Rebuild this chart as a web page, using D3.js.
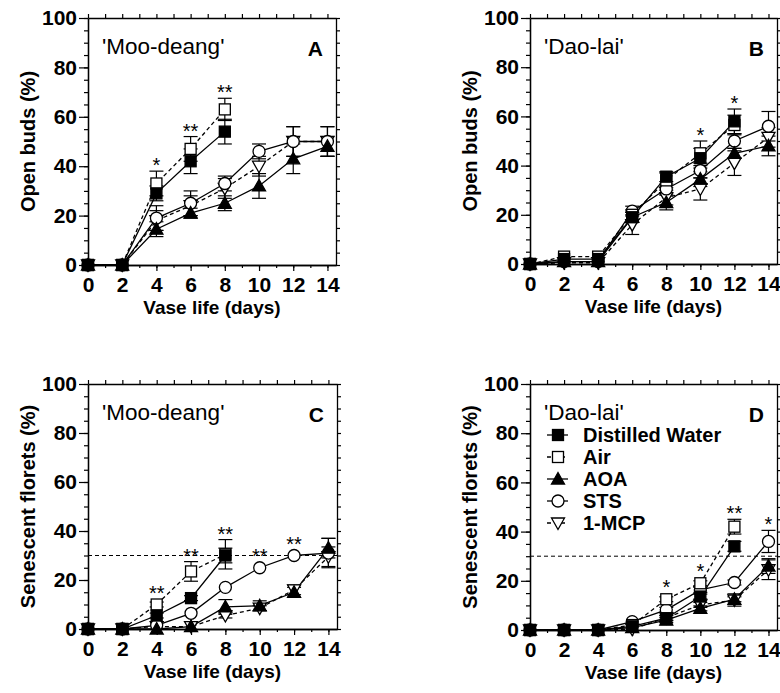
<!DOCTYPE html>
<html>
<head>
<meta charset="utf-8">
<script src="https://cdn.jsdelivr.net/npm/d3@7"></script>
<style>
  body { margin: 0; background: #fff; }
  svg { display: block; }
  text { font-family: "Liberation Sans", Arial, sans-serif; fill: #000; }
</style>
</head>
<body>
<svg id="chart" width="780" height="693"></svg>
<script>
// vase life days (x axis)
const days = [0, 2, 4, 6, 8, 10, 12, 14];
const xTicks = [0, 2, 4, 6, 8, 10, 12, 14];
const yTicks = [0, 20, 40, 60, 80, 100];
const treatments = ["Distilled Water", "Air", "AOA", "STS", "1-MCP"];

// panel A - open buds, 'Moo-deang'
const dwA  = [0, 0, 29, 42, 54, null, null, null];
const airA = [0, 0, 33, 47, 63, null, null, null];
const aoaA = [0, 0, 14.5, 21, 25, 32, 43, 48];
const stsA = [0, 0, 19, 25, 33, 46, 50, 50];
const mcpA = [0, 0, 18, 24, 31, 40, 50, 50];
const dwAErr  = [0, 0, 3, 5, 5, null, null, null];
const airAErr = [0, 0, 5, 5, 4.5, null, null, null];
const aoaAErr = [0, 0, 3, 2, 3, 5, 6, 4];
const stsAErr = [0, 0, 5, 5, 3, 3, 6, 6];
const mcpAErr = [0, 0, 4, 4, 4, 4, 6, 6];
const sigA = [[4, "*"], [6, "**"], [8, "**"]];

// panel B - open buds, 'Dao-lai'
const dwB  = [0, 2, 2, 19, 35.5, 43, 58, null];
const airB = [0, 3, 3, 20, 34, 45, 56.5, null];
const aoaB = [0, 1, 1, 19, 25, 34.5, 45, 48];
const stsB = [0, 1, 1, 21.5, 30.5, 38, 50, 56];
const mcpB = [0, 0.5, 0.5, 16, 27, 30.5, 41, 51.5];
const dwBErr  = [0, 0, 0, 2, 2, 4, 5, null];
const airBErr = [0, 0, 0, 2, 3, 5, 4, null];
const aoaBErr = [0, 0, 0, 2, 3, 3, 2, 4];
const stsBErr = [0, 0, 0, 2, 2, 3, 3, 6];
const mcpBErr = [0, 0, 0, 4, 3, 4.5, 5, 4];
const sigB = [[10, "*"], [12, "*"]];

// panel C - senescent florets, 'Moo-deang'
const dwC  = [0, 0, 5.5, 12.6, 30, null, null, null];
const airC = [0, 0, 10, 23.5, 30.5, null, null, null];
const aoaC = [0, 0, 0, 1, 9, 9.5, 15, 33];
const stsC = [0, 0, 1.5, 6.4, 17, 25, 30, 31];
const mcpC = [0, 0, 1, 1, 5.5, 8.5, 16, 29.5];
const dwCErr  = [0, 0, 1, 1, 3, null, null, null];
const airCErr = [0, 0, 1, 4, 6, null, null, null];
const aoaCErr = [0, 0, 0, 0, 3, 2, 2, 4];
const stsCErr = [0, 0, 0, 0, 0, 0, 0, 6];
const mcpCErr = [0, 0, 0, 0, 1, 1, 2, 4];
const sigC = [[4, "**"], [6, "**"], [8, "**"], [10, "**"], [12, "**"]];

// panel D - senescent florets, 'Dao-lai'
const dwD  = [0, 0, 0, 1.5, 4.8, 13.6, 34, null];
const airD = [0, 0, 0, 2, 12.5, 19, 42, null];
const aoaD = [0, 0, 0, 1, 4, 8.8, 12.5, 26];
const stsD = [0, 0, 0, 3.4, 8.2, 16.3, 19.3, 36];
const mcpD = [0, 0, 0, 0.3, 5, 10.2, 12.2, 24.5];
const dwDErr  = [0, 0, 0, 0, 1, 1, 2, null];
const airDErr = [0, 0, 0, 0, 1, 1, 3, null];
const aoaDErr = [0, 0, 0, 0, 1, 1, 1, 3];
const stsDErr = [0, 0, 0, 0, 1, 1, 1, 4.5];
const mcpDErr = [0, 0, 0, 0, 1, 1, 2.5, 4];
const sigD = [[8, "*"], [10, "*"], [12, "**"], [14, "*"]];

const threshold = 30;

const styles = {
  "Distilled Water": { shape: "square", fill: "#000", dash: null },
  "Air": { shape: "square", fill: "#fff", dash: "4,3" },
  "AOA": { shape: "triUp", fill: "#000", dash: null },
  "STS": { shape: "circle", fill: "#fff", dash: null },
  "1-MCP": { shape: "triDown", fill: "#fff", dash: "4,3" },
};

const panels = [
  { id: "A", cultivar: "'Moo-deang'", yLabel: "Open buds (%)", left: 88, right: 336, top: 18, bottom: 265,
    values: [dwA, airA, aoaA, stsA, mcpA], errs: [dwAErr, airAErr, aoaAErr, stsAErr, mcpAErr], sig: sigA, line: false, legend: false },
  { id: "B", cultivar: "'Dao-lai'", yLabel: "Open buds (%)", left: 530, right: 777, top: 18, bottom: 264,
    values: [dwB, airB, aoaB, stsB, mcpB], errs: [dwBErr, airBErr, aoaBErr, stsBErr, mcpBErr], sig: sigB, line: false, legend: false },
  { id: "C", cultivar: "'Moo-deang'", yLabel: "Senescent florets (%)", left: 88, right: 337, top: 384, bottom: 629,
    values: [dwC, airC, aoaC, stsC, mcpC], errs: [dwCErr, airCErr, aoaCErr, stsCErr, mcpCErr], sig: sigC, line: true, legend: false },
  { id: "D", cultivar: "'Dao-lai'", yLabel: "Senescent florets (%)", left: 530, right: 777, top: 384, bottom: 630,
    values: [dwD, airD, aoaD, stsD, mcpD], errs: [dwDErr, airDErr, aoaDErr, stsDErr, mcpDErr], sig: sigD, line: true, legend: true },
];

const svg = d3.select("#chart");

const drawMarker = (g, shape, fill, cx, cy) => {
  if (shape === "square") {
    g.append("rect").attr("x", cx - 5.5).attr("y", cy - 5.5).attr("width", 11).attr("height", 11)
      .attr("fill", fill).attr("stroke", "#000").attr("stroke-width", 1.3);
  } else if (shape === "circle") {
    g.append("circle").attr("cx", cx).attr("cy", cy).attr("r", 6)
      .attr("fill", fill).attr("stroke", "#000").attr("stroke-width", 1.3);
  } else {
    const s = shape === "triUp" ? 1 : -1;
    const pts = [[cx, cy - 6.5 * s], [cx - 6.5, cy + 5 * s], [cx + 6.5, cy + 5 * s]];
    g.append("path").attr("d", "M" + pts.join("L") + "Z")
      .attr("fill", fill).attr("stroke", "#000").attr("stroke-width", 1.3);
  }
};

panels.forEach((p) => {
  const x = d3.scaleLinear().domain([0, 14.5]).range([p.left, p.right]);
  const y = d3.scaleLinear().domain([0, 100]).range([p.bottom, p.top]);
  const g = svg.append("g");

  // frame ticks: minor then major on all four sides
  const styleAxis = (sel) => sel.call((s) => s.select(".domain").attr("stroke", "#000").attr("stroke-width", 1.3))
    .call((s) => s.selectAll(".tick line").attr("stroke", "#000").attr("stroke-width", 1.2));
  const boldLabels = (s) => s.selectAll("text").attr("font-size", 21).attr("font-weight", "bold").attr("fill", "#000")
    .attr("font-family", "'Liberation Sans', Arial, sans-serif");

  g.append("g").attr("transform", `translate(0,${p.bottom})`)
    .call(d3.axisBottom(x).tickValues(d3.range(0, 15)).tickSize(3).tickSizeOuter(0).tickFormat("")).call(styleAxis);
  g.append("g").attr("transform", `translate(0,${p.bottom})`)
    .call(d3.axisBottom(x).tickValues(xTicks).tickSize(6).tickSizeOuter(0).tickPadding(6)).call(styleAxis)
    .call(boldLabels);
  g.append("g").attr("transform", `translate(0,${p.top})`)
    .call(d3.axisTop(x).tickValues(d3.range(0, 15)).tickSize(4).tickSizeOuter(0).tickFormat("")).call(styleAxis);

  g.append("g").attr("transform", `translate(${p.left},0)`)
    .call(d3.axisLeft(y).tickValues(d3.range(0, 101, 5)).tickSize(4).tickSizeOuter(0).tickFormat("")).call(styleAxis);
  g.append("g").attr("transform", `translate(${p.left},0)`)
    .call(d3.axisLeft(y).tickValues(yTicks).tickSize(9).tickSizeOuter(0).tickPadding(2)).call(styleAxis)
    .call(boldLabels);
  g.append("g").attr("transform", `translate(${p.right},0)`)
    .call(d3.axisRight(y).tickValues(d3.range(0, 101, 5)).tickSize(4).tickSizeOuter(0).tickFormat("")).call(styleAxis);

  // axis titles
  g.append("text")
    .attr("x", (p.left + p.right) / 2).attr("y", p.bottom + 49)
    .attr("text-anchor", "middle").attr("font-size", 19).attr("font-weight", "bold")
    .text("Vase life (days)");
  g.append("text")
    .attr("transform", `translate(${p.left - 53},${(p.top + p.bottom) / 2}) rotate(-90)`)
    .attr("text-anchor", "middle").attr("font-size", 20).attr("font-weight", "bold")
    .text(p.yLabel);

  // cultivar + panel letter
  g.append("text").attr("x", p.left + 14).attr("y", p.top + 36)
    .attr("font-size", 22.5).text(p.cultivar);
  g.append("text").attr("x", p.right - 13).attr("y", p.top + 38)
    .attr("text-anchor", "end").attr("font-size", 21).attr("font-weight", "bold").text(p.id);

  if (p.line) {
    g.append("line").attr("x1", x(0)).attr("x2", p.right).attr("y1", y(threshold)).attr("y2", y(threshold))
      .attr("stroke", "#000").attr("stroke-width", 1).attr("stroke-dasharray", "4,3");
  }

  const lineGen = d3.line().defined((d) => d[1] !== null).x((d) => x(d[0])).y((d) => y(d[1]));

  treatments.forEach((name, i) => {
    const st = styles[name];
    const pts = days.map((d, j) => [d, p.values[i][j], p.errs[i][j]]);
    g.append("path").datum(pts).attr("d", lineGen)
      .attr("fill", "none").attr("stroke", "#000").attr("stroke-width", 1.3)
      .attr("stroke-dasharray", st.dash);
  });

  // error bars
  treatments.forEach((name, i) => {
    days.forEach((d, j) => {
      const v = p.values[i][j];
      const e = p.errs[i][j];
      if (v === null || !e) return;
      const cx = x(d);
      const lo = y(Math.max(0, v - e));
      const hi = y(v + e);
      g.append("line").attr("x1", cx).attr("x2", cx).attr("y1", lo).attr("y2", hi)
        .attr("stroke", "#000").attr("stroke-width", 1.2);
      [lo, hi].forEach((yy) => g.append("line").attr("x1", cx - 7).attr("x2", cx + 7).attr("y1", yy).attr("y2", yy)
        .attr("stroke", "#000").attr("stroke-width", 1.2));
    });
  });

  // markers (last series first so distilled water stays on top)
  treatments.slice().reverse().forEach((name) => {
    const i = treatments.indexOf(name);
    const st = styles[name];
    days.forEach((d, j) => {
      const v = p.values[i][j];
      if (v === null) return;
      drawMarker(g, st.shape, st.fill, x(d), y(v));
    });
  });

  // significance marks
  p.sig.forEach(([d, mark]) => {
    const j = days.indexOf(d);
    let topPx = Infinity;
    treatments.forEach((name, i) => {
      const v = p.values[i][j];
      if (v === null) return;
      const e = p.errs[i][j] || 0;
      topPx = Math.min(topPx, y(v + e), y(v) - 6);
    });
    g.append("text").attr("x", x(d)).attr("y", topPx + 1)
      .attr("text-anchor", "middle").attr("font-size", 20).text(mark);
  });

  if (p.legend) {
    const lg = g.append("g");
    treatments.forEach((name, i) => {
      const st = styles[name];
      const ry = p.top + 51 + i * 22;
      lg.append("line").attr("x1", p.left + 17).attr("x2", p.left + 38).attr("y1", ry).attr("y2", ry)
        .attr("stroke", "#000").attr("stroke-width", 1.3).attr("stroke-dasharray", st.dash);
      drawMarker(lg, st.shape, st.fill, p.left + 28, ry);
      lg.append("text").attr("x", p.left + 53).attr("y", ry + 7)
        .attr("font-size", 20).attr("font-weight", "bold").text(name);
    });
  }
});
</script>
</body>
</html>
